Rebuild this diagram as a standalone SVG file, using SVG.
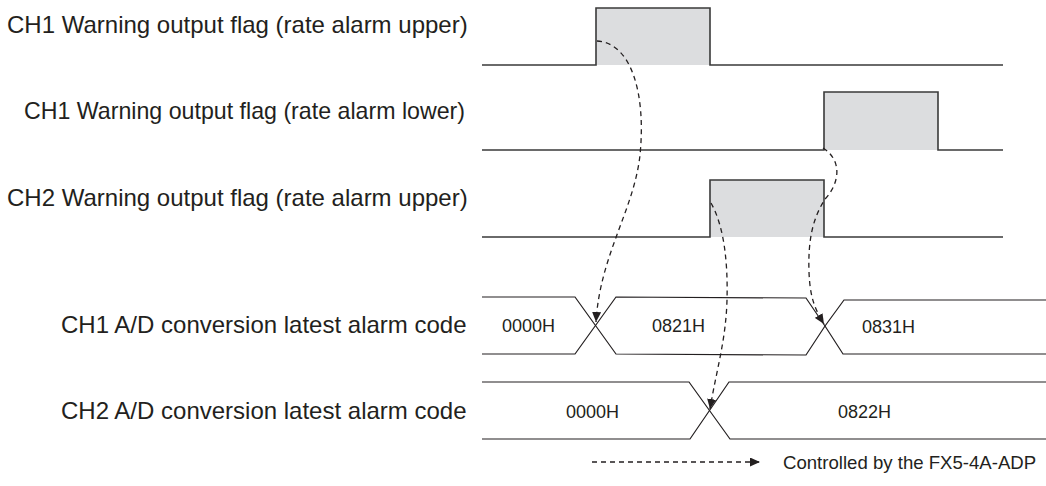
<svg xmlns="http://www.w3.org/2000/svg" width="1046" height="486" viewBox="0 0 1046 486">
<style>
.lbl{font-family:"Liberation Sans",Arial,sans-serif;font-size:24px;fill:#231f20}
.val{font-family:"Liberation Sans",Arial,sans-serif;font-size:18px;fill:#231f20}
.leg{font-family:"Liberation Sans",Arial,sans-serif;font-size:18.6px;fill:#231f20}
.sig{fill:none;stroke:#3a3a3a;stroke-width:1.6}
.pulse{fill:#dcdddf;stroke:none}
.bus{fill:none;stroke:#231f20;stroke-width:1.2}
.dash{fill:none;stroke:#231f20;stroke-width:1.3;stroke-dasharray:5 4;marker-end:url(#ah)}
</style>
<defs>
<marker id="ah" viewBox="0 0 10 9" refX="10" refY="4.5" markerWidth="10" markerHeight="9" markerUnits="userSpaceOnUse" orient="auto">
<path d="M0,0 L10,4.5 L0,9 z" fill="#231f20"/>
</marker>
</defs>
<rect width="1046" height="486" fill="#ffffff"/>

<g id="ch1-upper">
<text class="lbl" x="7" y="33">CH1 Warning output flag (rate alarm upper)</text>
<rect class="pulse" x="596" y="8" width="114" height="57"/>
<polyline class="sig" points="482,65 596,65 596,8 710,8 710,65 1003,65"/>
</g>

<g id="ch1-lower">
<text class="lbl" x="24" y="119" textLength="441" lengthAdjust="spacingAndGlyphs">CH1 Warning output flag (rate alarm lower)</text>
<rect class="pulse" x="824" y="92" width="114" height="58"/>
<polyline class="sig" points="482,150 824,150 824,92 938,92 938,150 1003,150"/>
</g>

<g id="ch2-upper">
<text class="lbl" x="7" y="206">CH2 Warning output flag (rate alarm upper)</text>
<rect class="pulse" x="710" y="180" width="114" height="57"/>
<polyline class="sig" points="482,237 710,237 710,180 824,180 824,237 1003,237"/>
</g>

<g id="ch1-code">
<text class="lbl" x="61" y="333">CH1 A/D conversion latest alarm code</text>
<polyline class="bus" points="482,297 575,297 616,354 806,355 825,326 844,300 1046,300"/>
<polyline class="bus" points="482,354 575,354 616,297 806,298 825,326 843,354 1046,354"/>
<text class="val" x="502" y="332">0000H</text>
<text class="val" x="652" y="332">0821H</text>
<text class="val" x="862" y="333">0831H</text>
</g>

<g id="ch2-code">
<text class="lbl" x="61" y="419">CH2 A/D conversion latest alarm code</text>
<polyline class="bus" points="482,382 689,382 730,439 1046,439"/>
<polyline class="bus" points="482,439 690,439 729,382 1046,382"/>
<text class="val" x="566" y="418">0000H</text>
<text class="val" x="838" y="418">0822H</text>
</g>

<g id="connectors">
<path class="dash" d="M597,41 C632,43 646,95 640,155 C634,210 600,255 596,322"/>
<path class="dash" d="M711,203 C724,226 728,262 727,300 C726,340 716,372 710,409"/>
<path class="dash" d="M823,148 C842,160 840,182 826,198 C812,218 808,242 809,272 C810,296 814,308 824,324"/>
</g>

<g id="legend">
<line class="dash" x1="592" y1="462" x2="760" y2="462"/>
<text class="leg" x="783" y="469">Controlled by the FX5-4A-ADP</text>
</g>
</svg>
